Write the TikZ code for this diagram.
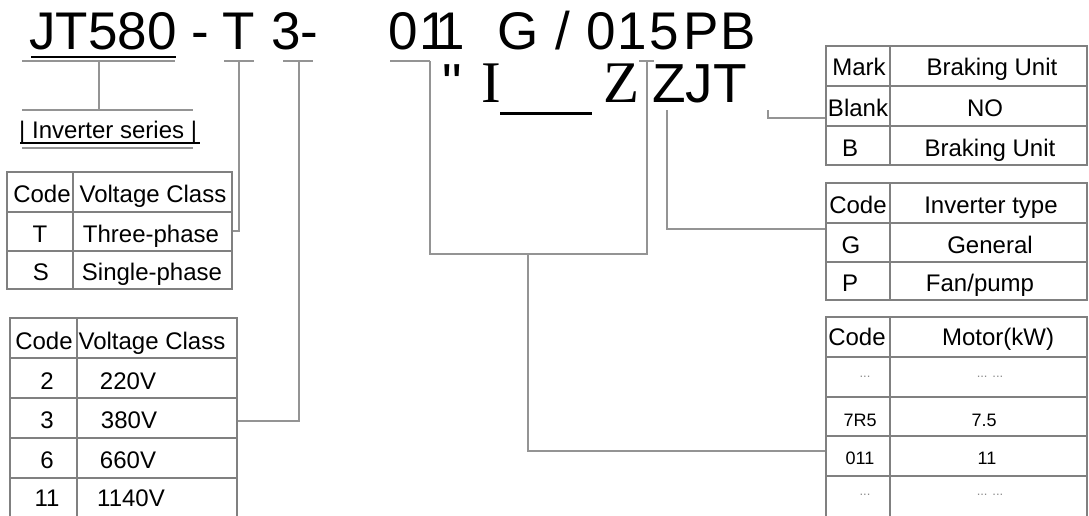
\documentclass[tikz,border=0pt]{standalone}
\usepackage{fontspec}
\setmainfont{Liberation Sans}
\newfontfamily\serifpart{Liberation Serif}
\newfontfamily\plainquote{Liberation Sans}
\begin{document}
\begin{tikzpicture}[x=1pt,y=-1pt,
  tline/.style={draw=black!50, line width=1.6pt},
  conn/.style={draw=black!42, line width=1.6pt},
  cell/.style={anchor=base, inner sep=0pt, font=\fontsize{24}{28}\selectfont},
  smallcell/.style={anchor=base, inner sep=0pt, font=\fontsize{18}{22}\selectfont},
  dotcell/.style={anchor=center, inner sep=0pt, text=black!45, font=\fontsize{13}{16}\selectfont},
  big/.style={anchor=base west, inner sep=0pt, font=\fontsize{53}{60}\selectfont},
  bigsans/.style={anchor=base west, inner sep=0pt, font=\fontsize{55}{60}\selectfont},
  bigserif/.style={anchor=base west, inner sep=0pt, font=\fontsize{59}{64}\selectfont\serifpart},
]
\useasboundingbox (0,0) rectangle (1089,515);
\clip (0,0) rectangle (1089,515);

% ---------- title line ----------
\node[big] (tJT) at (29,49) {JT580};
\node[big] (tD1) at (191,49) {-};
\node[big] (tT) at (222,49) {T};
\node[big] (t3) at (271,49) {3-};
\node[big] (t0a) at (388,49) {0};
\node[big] (t1a) at (419,49) {1};
\node[big] (t1b) at (435,49) {1};
\node[big] (tG) at (497,49) {G};
\node[big] (tSl) at (555,49) {/};
\node[big] (t0c) at (586,49) {0};
\node[big] (t1c) at (617,49) {1};
\node[big] (t5) at (649,49) {5};
\node[big] (tP) at (683,49) {P};
\node[big] (tB) at (720,49) {B};
\draw[black, line width=2.6pt] (31,57) -- (176,57);

% ---------- second line ----------
\node[anchor=base west, inner sep=0pt, font=\fontsize{55}{60}\plainquote] (sQ) at (442,102) {"};
\node[bigserif] (sI) at (481,102) {I};
\draw[black, line width=3pt] (500,113) -- (592,113);
\node[bigserif] (sZ) at (603,102) {Z};
\node[bigsans] (sZJT) at (652,102) {ZJT};

% ---------- connectors ----------
\coordinate (cJT) at (99,61);
\coordinate (cSer) at (99,110);
\draw[conn] (22,61) -- (175,61);
\draw[conn] (cJT) -- (cSer);
\draw[conn] (22,110) -- (193,110);
\node[anchor=base west, inner sep=0pt, font=\fontsize{24}{28}\selectfont] (ser) at (19,138) {| Inverter series |};
\draw[black, line width=2pt] (20,143) -- (200,143);
\draw[conn] (22,148) -- (193,148);

\coordinate (cT) at (239,61);
\coordinate (cTe) at (232,231);
\draw[conn] (224,61) -- (254,61);
\draw[conn] (cT) |- (cTe);

\coordinate (c3) at (299,61);
\coordinate (c3e) at (237,421);
\draw[conn] (283,61) -- (313,61);
\draw[conn] (c3) |- (c3e);

\coordinate (bL) at (430,61);
\coordinate (bR) at (647,61);
\coordinate (bM) at (528,254);
\coordinate (mE) at (826,451);
\draw[conn] (390,61) -- (bL);
\draw[conn] (639,61) -- (654,61);
\draw[conn] (bL) -- (430,254) -- (647,254) -- (bR);
\draw[conn] (bM) |- (mE);

\coordinate (cG) at (667,110);
\coordinate (cGe) at (826,229);
\draw[conn] (cG) |- (cGe);

\coordinate (cB) at (768,110);
\coordinate (cBe) at (826,118);
\draw[conn] (cB) |- (cBe);

% ---------- table 1 ----------
\draw[tline] (7,172) rectangle (232,289);
\draw[tline] (73,172) -- (73,289) (7,212) -- (232,212) (7,251) -- (232,251);
\node[cell] (a1) at (42,202) {Code};
\node[cell] (a2) at (153,202) {Voltage Class};
\node[cell] (a3) at (40,242) {T};
\node[cell] (a4) at (151,242) {Three-phase};
\node[cell] (a5) at (41,280) {S};
\node[cell] (a6) at (152,280) {Single-phase};

% ---------- table 2 ----------
\draw[tline] (10,530) -- (10,318) -- (237,318) -- (237,530);
\draw[tline] (77,318) -- (77,530);
\foreach \yy in {358,398,438,478} \draw[tline] (10,\yy) -- (237,\yy);
\node[cell] (b1) at (44,349) {Code};
\node[cell] (b2) at (152,349) {Voltage Class};
\node[cell] (b3) at (47,389) {2};
\node[cell] (b4) at (128,389) {220V};
\node[cell] (b5) at (47,428) {3};
\node[cell] (b6) at (129,428) {380V};
\node[cell] (b7) at (47,468) {6};
\node[cell] (b8) at (128,468) {660V};
\node[cell] (b9) at (47,506) {11};
\node[cell] (b10) at (131,506) {1140V};

% ---------- table A ----------
\draw[tline] (826,46) rectangle (1087,165);
\draw[tline] (890,46) -- (890,165) (826,86) -- (1087,86) (826,126) -- (1087,126);
\node[cell] (c1) at (859,75) {Mark};
\node[cell] (c2) at (992,75) {Braking Unit};
\node[cell] (c3) at (858,116) {Blank};
\node[cell] (c4) at (985,116) {NO};
\node[cell] (c5) at (850,156) {B};
\node[cell] (c6) at (990,156) {Braking Unit};

% ---------- table B ----------
\draw[tline] (826,183) rectangle (1087,300);
\draw[tline] (890,183) -- (890,300) (826,223) -- (1087,223) (826,262) -- (1087,262);
\node[cell] (d1) at (858,213) {Code};
\node[cell] (d2) at (991,213) {Inverter type};
\node[cell] (d3) at (851,253) {G};
\node[cell] (d4) at (990,253) {General};
\node[cell] (d5) at (850,291) {P};
\node[cell] (d6) at (980,291) {Fan/pump};

% ---------- table C ----------
\draw[tline] (826,530) -- (826,317) -- (1087,317) -- (1087,530);
\draw[tline] (890,317) -- (890,530);
\foreach \yy in {357,397,436,476} \draw[tline] (826,\yy) -- (1087,\yy);
\node[cell] (e1) at (857,345) {Code};
\node[cell] (e2) at (998,345) {Motor(kW)};
\node[dotcell] (e3) at (865,377) {...};
\node[dotcell] (e4) at (990,377) {... ...};
\node[smallcell] (e5) at (860,426) {7R5};
\node[smallcell] (e6) at (984,426) {7.5};
\node[smallcell] (e7) at (860,464) {011};
\node[smallcell] (e8) at (987,464) {11};
\node[dotcell] (e9) at (865,495) {...};
\node[dotcell] (e10) at (990,495) {... ...};
\end{tikzpicture}
\end{document}
